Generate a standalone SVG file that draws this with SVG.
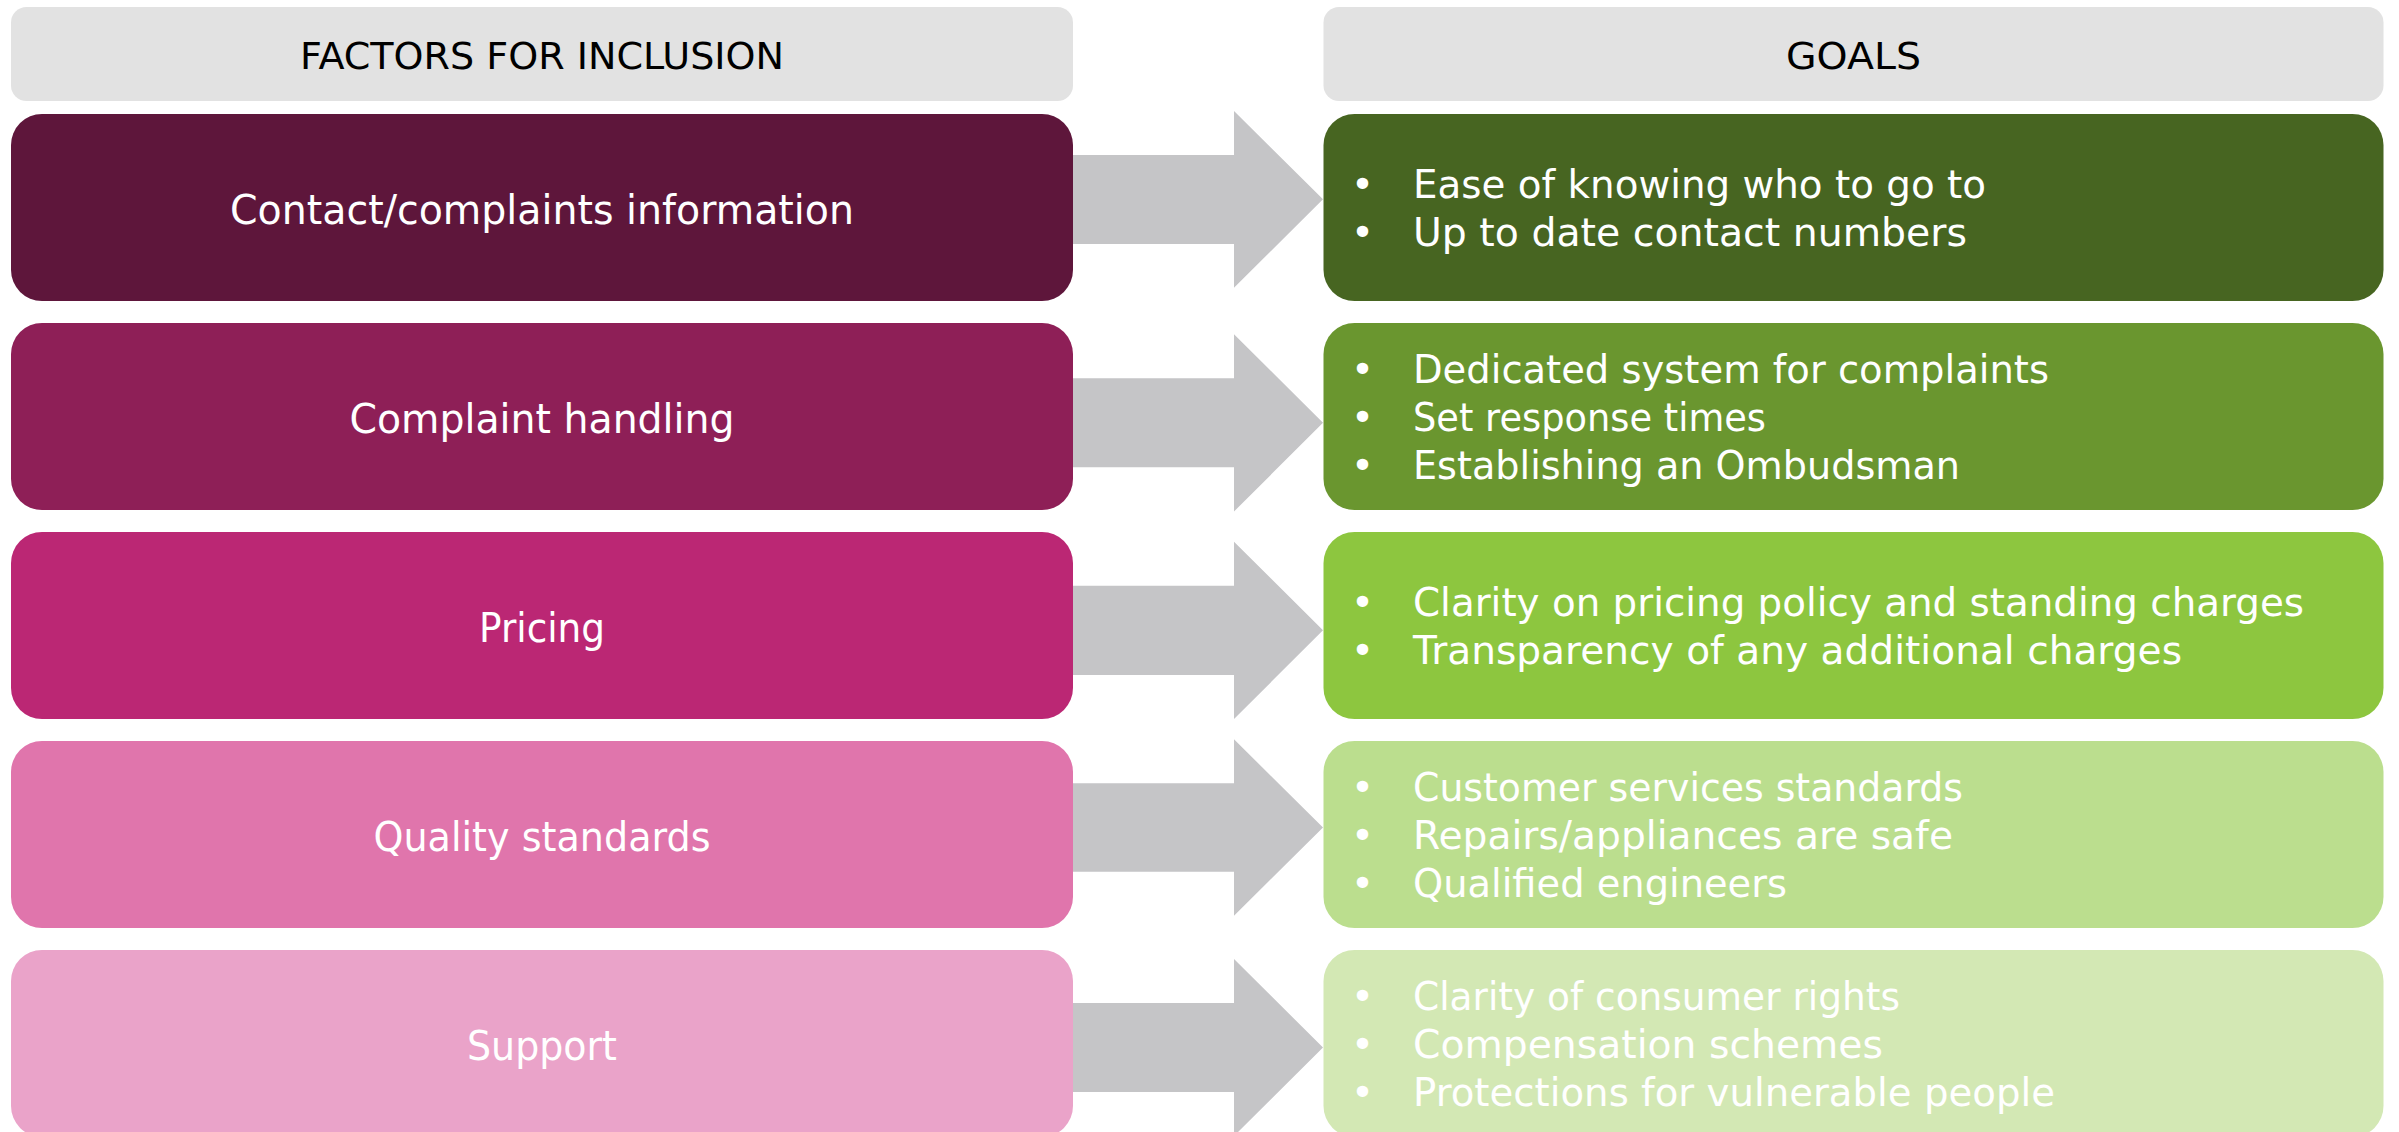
<svg xmlns="http://www.w3.org/2000/svg" width="2399" height="1132" viewBox="0 0 2399 1132">
  <style>
    .hdr { fill: #E2E2E2; }
    .hdr-text { font-family: "DejaVu Sans", "Liberation Sans", sans-serif; font-size: 37px; fill: #000000; text-anchor: middle; }
    .label { font-family: "DejaVu Sans", "Liberation Sans", sans-serif; font-size: 41px; fill: #FFFFFF; text-anchor: middle; }
    .goal { font-family: "DejaVu Sans", "Liberation Sans", sans-serif; font-size: 39px; fill: #FFFFFF; }
    .arrow { fill: #C5C5C7; }
  </style>

  <!-- column headers -->
  <g id="header-factors">
    <rect class="hdr" x="11" y="7" width="1062" height="94" rx="15.6" ry="15.6"/>
    <text class="hdr-text" x="542" y="69" textLength="484" lengthAdjust="spacingAndGlyphs">FACTORS FOR INCLUSION</text>
  </g>
  <g id="header-goals">
    <rect class="hdr" x="1323.5" y="7" width="1060" height="94" rx="15.6" ry="15.6"/>
    <text class="hdr-text" x="1853.5" y="69" textLength="135" lengthAdjust="spacingAndGlyphs">GOALS</text>
  </g>

  <!-- block arrows linking each factor to its goals -->
  <g id="connectors">
    <polygon class="arrow" points="1068,155 1234,155 1234,111 1323,199.3 1234,287.7 1234,244 1068,244"/>
    <polygon class="arrow" points="1068,378.3 1234,378.3 1234,334.3 1323,422.8 1234,511.5 1234,467.3 1068,467.3"/>
    <polygon class="arrow" points="1068,585.7 1234,585.7 1234,541.7 1323,630.3 1234,719 1234,675 1068,675"/>
    <polygon class="arrow" points="1068,783.3 1234,783.3 1234,739.3 1323,827.5 1234,915.7 1234,871.7 1068,871.7"/>
    <polygon class="arrow" points="1068,1003 1234,1003 1234,959 1323,1047.5 1234,1136 1234,1092 1068,1092"/>
  </g>

  <!-- factors -->
  <g id="factor-contact">
    <rect x="11" y="114" width="1062" height="187" rx="31" ry="31" fill="#5E163B"/>
    <text class="label" x="542" y="223.5" textLength="624" lengthAdjust="spacingAndGlyphs">Contact/complaints information</text>
  </g>
  <g id="factor-complaints">
    <rect x="11" y="323" width="1062" height="187" rx="31" ry="31" fill="#8E1F57"/>
    <text class="label" x="542" y="432.5" textLength="385" lengthAdjust="spacingAndGlyphs">Complaint handling</text>
  </g>
  <g id="factor-pricing">
    <rect x="11" y="532" width="1062" height="187" rx="31" ry="31" fill="#BB2774"/>
    <text class="label" x="542" y="641.5" textLength="126" lengthAdjust="spacingAndGlyphs">Pricing</text>
  </g>
  <g id="factor-quality">
    <rect x="11" y="741" width="1062" height="187" rx="31" ry="31" fill="#E075AC"/>
    <text class="label" x="542" y="850.5" textLength="337" lengthAdjust="spacingAndGlyphs">Quality standards</text>
  </g>
  <g id="factor-support">
    <rect x="11" y="950" width="1062" height="187" rx="31" ry="31" fill="#EAA3C9"/>
    <text class="label" x="542" y="1059.5" textLength="150" lengthAdjust="spacingAndGlyphs">Support</text>
  </g>

  <!-- goals -->
  <g id="goal-contact">
    <rect x="1323.5" y="114" width="1060" height="187" rx="31" ry="31" fill="#476521"/>
    <text class="goal" x="1351" y="197.5">•</text>
    <text class="goal" x="1413" y="197.5" textLength="573" lengthAdjust="spacingAndGlyphs">Ease of knowing who to go to</text>
    <text class="goal" x="1351" y="245.5">•</text>
    <text class="goal" x="1413" y="245.5" textLength="554" lengthAdjust="spacingAndGlyphs">Up to date contact numbers</text>
  </g>
  <g id="goal-complaints">
    <rect x="1323.5" y="323" width="1060" height="187" rx="31" ry="31" fill="#6A962F"/>
    <text class="goal" x="1351" y="382.5">•</text>
    <text class="goal" x="1413" y="382.5" textLength="636" lengthAdjust="spacingAndGlyphs">Dedicated system for complaints</text>
    <text class="goal" x="1351" y="430.5">•</text>
    <text class="goal" x="1413" y="430.5" textLength="353" lengthAdjust="spacingAndGlyphs">Set response times</text>
    <text class="goal" x="1351" y="478.5">•</text>
    <text class="goal" x="1413" y="478.5" textLength="547" lengthAdjust="spacingAndGlyphs">Establishing an Ombudsman</text>
  </g>
  <g id="goal-pricing">
    <rect x="1323.5" y="532" width="1060" height="187" rx="31" ry="31" fill="#8DC63F"/>
    <text class="goal" x="1351" y="615.5">•</text>
    <text class="goal" x="1413" y="615.5" textLength="891" lengthAdjust="spacingAndGlyphs">Clarity on pricing policy and standing charges</text>
    <text class="goal" x="1351" y="663.5">•</text>
    <text class="goal" x="1413" y="663.5" textLength="769" lengthAdjust="spacingAndGlyphs">Transparency of any additional charges</text>
  </g>
  <g id="goal-quality">
    <rect x="1323.5" y="741" width="1060" height="187" rx="31" ry="31" fill="#BBDE8E"/>
    <text class="goal" x="1351" y="800.5">•</text>
    <text class="goal" x="1413" y="800.5" textLength="550" lengthAdjust="spacingAndGlyphs">Customer services standards</text>
    <text class="goal" x="1351" y="848.5">•</text>
    <text class="goal" x="1413" y="848.5" textLength="540" lengthAdjust="spacingAndGlyphs">Repairs/appliances are safe</text>
    <text class="goal" x="1351" y="896.5">•</text>
    <text class="goal" x="1413" y="896.5" textLength="374" lengthAdjust="spacingAndGlyphs">Qualified engineers</text>
  </g>
  <g id="goal-support">
    <rect x="1323.5" y="950" width="1060" height="187" rx="31" ry="31" fill="#D3E8B4"/>
    <text class="goal" x="1351" y="1009.5">•</text>
    <text class="goal" x="1413" y="1009.5" textLength="487" lengthAdjust="spacingAndGlyphs">Clarity of consumer rights</text>
    <text class="goal" x="1351" y="1057.5">•</text>
    <text class="goal" x="1413" y="1057.5" textLength="470" lengthAdjust="spacingAndGlyphs">Compensation schemes</text>
    <text class="goal" x="1351" y="1105.5">•</text>
    <text class="goal" x="1413" y="1105.5" textLength="642" lengthAdjust="spacingAndGlyphs">Protections for vulnerable people</text>
  </g>
</svg>
